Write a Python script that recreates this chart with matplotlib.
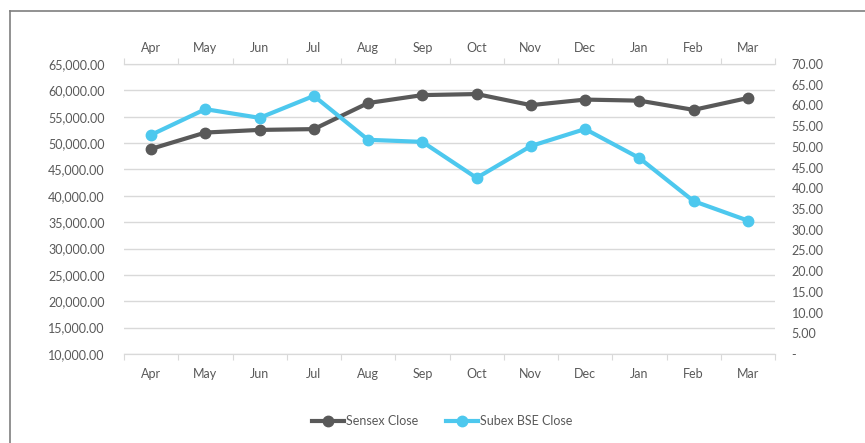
import matplotlib
matplotlib.use("Agg")
import matplotlib.pyplot as plt
from matplotlib.lines import Line2D
from matplotlib.ticker import FuncFormatter, MultipleLocator, FixedLocator

months = ["Apr", "May", "Jun", "Jul", "Aug", "Sep", "Oct", "Nov", "Dec", "Jan", "Feb", "Mar"]
sensex = [48900, 52000, 52500, 52650, 57600, 59100, 59300, 57200, 58250, 58050, 56300, 58550]
subex = [52.9, 59.1, 57.0, 62.3, 51.7, 51.2, 42.5, 50.2, 54.3, 47.3, 36.9, 32.2]

TXT = "#595959"
GRID = "#D9D9D9"
C_SENSEX = "#595959"
C_SUBEX = "#4DC8EE"

plt.rcParams["font.family"] = ["Lato", "DejaVu Sans"]

fig = plt.figure(figsize=(8.65, 4.43), dpi=100)
ax = fig.add_axes([124/865, 1-354/443, (775-124)/865, (354-64)/443])
ax2 = ax.twinx()

x = list(range(len(months)))
ax.plot(x, sensex, color=C_SENSEX, lw=3, marker="o", ms=7.5, solid_capstyle="round", zorder=3)
ax2.plot(x, subex, color=C_SUBEX, lw=3, marker="o", ms=7.5, solid_capstyle="round", zorder=3)

ax.set_xlim(-0.5, len(months)-0.5)
ax.set_ylim(10000, 65000)
ax2.set_ylim(0, 70)

ax.yaxis.set_major_locator(MultipleLocator(5000))
ax.yaxis.set_major_formatter(FuncFormatter(lambda v, p: f"{v:,.2f}"))
ax2.yaxis.set_major_locator(MultipleLocator(5))
ax2.yaxis.set_major_formatter(FuncFormatter(lambda v, p: "-" if abs(v) < 1e-9 else f"{v:.2f}"))

ax.grid(axis="y", color=GRID, lw=1)
ax.set_axisbelow(True)

# category ticks (boundaries) and labels (centres)
ax.xaxis.set_major_locator(FixedLocator([i - 0.5 for i in range(len(months)+1)]))
ax.xaxis.set_minor_locator(FixedLocator(x))
ax.set_xticklabels([], minor=False)
ax.set_xticks(x, months, minor=True)
ax.tick_params(axis="x", which="major", length=4, color=GRID, top=True, bottom=True, direction="out")
ax.tick_params(axis="x", which="minor", length=0, labelsize=9, labelcolor=TXT, pad=10,
               top=False, labeltop=False, bottom=True, labelbottom=True)
ax2.tick_params(axis="x", which="both", length=0)

topax = ax.secondary_xaxis("top")
topax.set_xticks(x, months)
topax.tick_params(axis="x", length=0, labelsize=9, labelcolor=TXT, pad=7)
topax.spines["top"].set_visible(False)

ax.tick_params(axis="y", length=0, labelsize=9, labelcolor=TXT, pad=14)
ax2.tick_params(axis="y", length=0, labelsize=9, labelcolor=TXT, pad=12)

for a in (ax, ax2):
    for s in ("left", "right"):
        a.spines[s].set_visible(False)
    a.spines["top"].set_color(GRID)
    a.spines["bottom"].set_color(GRID)
    a.patch.set_visible(False)

# figure frame (left and top visible)
fig.add_artist(Line2D([9.5/865, 9.5/865], [0, 1-11/443], transform=fig.transFigure, color="#7F7F7F", lw=1.2))
fig.add_artist(Line2D([9.5/865, 1], [1-11/443, 1-11/443], transform=fig.transFigure, color="#7F7F7F", lw=1.2))

handles = [Line2D([], [], color=C_SENSEX, lw=3, marker="o", ms=7.5),
           Line2D([], [], color=C_SUBEX, lw=3, marker="o", ms=7.5)]
fig.legend(handles, ["Sensex Close", "Subex BSE Close"], loc="center", bbox_to_anchor=(442/865, 1-421/443),
           ncol=2, frameon=False, fontsize=9, labelcolor=TXT, handlelength=2.6, handletextpad=0.15,
           columnspacing=2.2)

fig.savefig("out.png", dpi=100)
